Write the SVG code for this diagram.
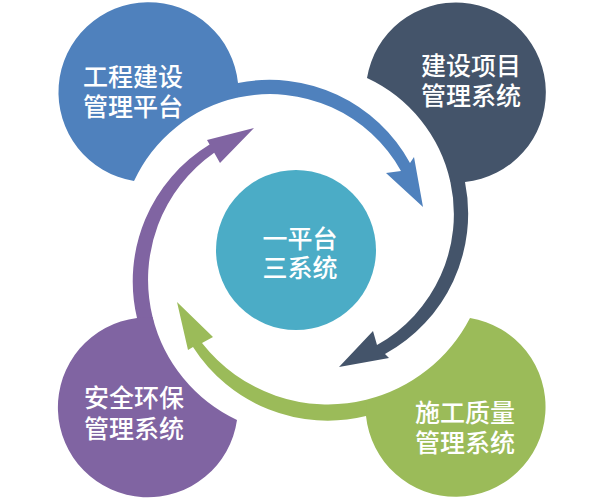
<svg xmlns="http://www.w3.org/2000/svg" width="600" height="500" viewBox="0 0 600 500">
<style>
.lbl{fill:#fff;font-family:"Noto Sans CJK SC","Noto Sans",sans-serif;font-size:25px;font-weight:500;text-anchor:middle;dominant-baseline:central}
.blue{fill:#4f81bd}.navy{fill:#44546a}.green{fill:#9bbb59}.purple{fill:#8064a2}.teal{fill:#4bacc6}
</style>
<rect width="600" height="500" fill="#fff"/>
<g id="connectors">
<path class="blue" d="M238 83 A160 160 0 0 1 410 163 L414 157 L423 207 L386 173 L401 171 A150 150 0 0 0 237.9 97.6 L225 90 L225 80 Z"/>
<path class="navy" d="M465 182 A160 160 0 0 1 385 354 L389 358 L339 367 L373 331 L377 345 A150 150 0 0 0 450.4 181.9 L458 169 L468 169 Z"/>
<path class="green" d="M366 416 A160 160 0 0 1 193 347 L188 350 L177 302 L213 337 L202 343 A160 160 0 0 0 366.3 399.8 L379 409 L379 419 Z"/>
<path class="purple" d="M137 318 A160 160 0 0 1 209.6 144.6 L207 140 L254 128 L220 163 L214.2 152.7 A155 155 0 0 0 152.6 317 L155 330 L145 330 Z"/>
</g>
<g id="node-platform">
<path class="blue" d="M134 181 A90 90 0 1 1 238 83 L237.9 97.6 A150 150 0 0 0 134 181 Z"/>
<text class="lbl"><tspan x="133" y="75">工程建设</tspan><tspan x="133" y="105">管理平台</tspan></text>
</g>
<g id="node-project">
<path class="navy" d="M367 78 A90 90 0 1 1 465 182 L450.4 181.9 A150 150 0 0 0 367 78 Z"/>
<text class="lbl"><tspan x="471" y="64">建设项目</tspan><tspan x="471" y="94">管理系统</tspan></text>
</g>
<g id="node-quality">
<path class="green" d="M470 318 A90 90 0 1 1 366 416 L366.3 399.8 A160 160 0 0 0 470 318 Z"/>
<text class="lbl"><tspan x="465" y="411">施工质量</tspan><tspan x="465" y="441">管理系统</tspan></text>
</g>
<g id="node-safety">
<path class="purple" d="M237 420 A90 90 0 1 1 137 318 L152.6 317 A155 155 0 0 0 237 420 Z"/>
<text class="lbl"><tspan x="134" y="396">安全环保</tspan><tspan x="134" y="427">管理系统</tspan></text>
</g>
<g id="node-center">
<circle class="teal" cx="296" cy="250" r="80"/>
<text class="lbl"><tspan x="300" y="237">一平台</tspan><tspan x="300" y="266">三系统</tspan></text>
</g>
</svg>
